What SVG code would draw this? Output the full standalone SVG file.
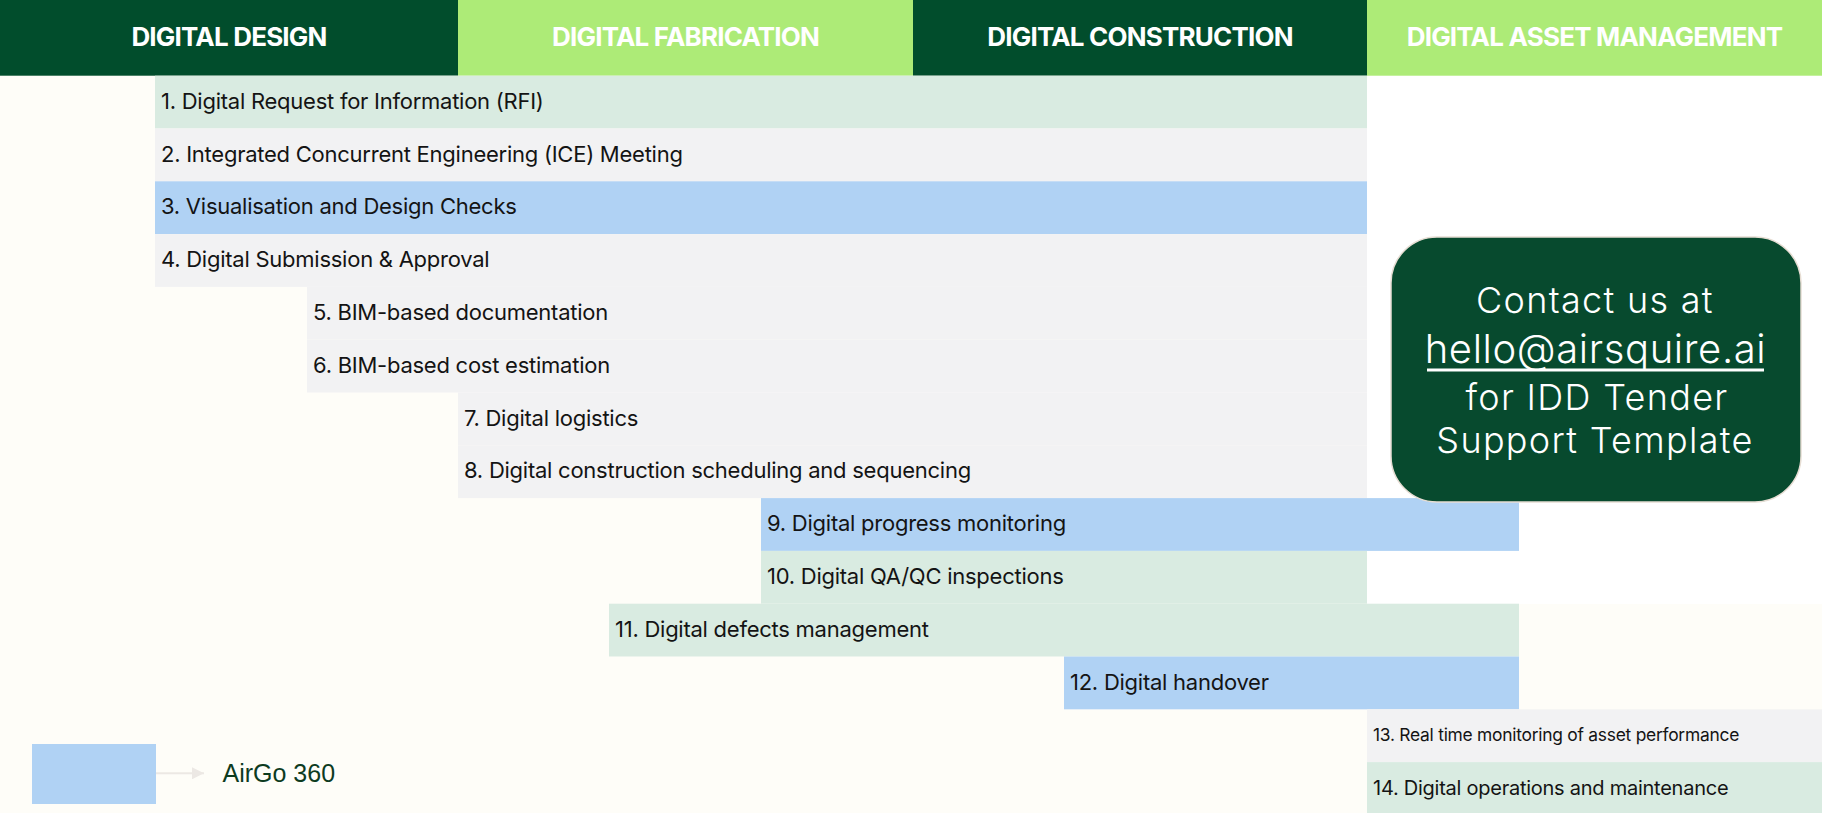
<svg xmlns="http://www.w3.org/2000/svg" width="1822" height="813" viewBox="0 0 1822 813">
<defs>
<style>
.hdr{font-family:Inter,"Liberation Sans",sans-serif;font-weight:700;font-size:26px;letter-spacing:-0.8px;fill:#ffffff;text-anchor:middle}
.row{font-family:Inter,"Liberation Sans",sans-serif;font-size:22px;letter-spacing:-0.25px;fill:#141414}
.g{fill:#d9ebe1}.w{fill:#f2f2f3}.b{fill:#b0d2f4}
.dk{fill:#014d2c}.lt{fill:#adeb77}
.ct{font-family:Inter,"DejaVu Sans",sans-serif;font-weight:350;font-size:36px;letter-spacing:1.3px;fill:#ffffff;text-anchor:middle}
</style>
<marker id="arr" viewBox="0 0 10 10" refX="10" refY="5" markerWidth="6" markerHeight="6" orient="auto" markerUnits="strokeWidth">
<path d="M0,0 L10,5 L0,10 z" fill="#ece8e4"/>
</marker>
</defs>
<rect x="0" y="0" width="1822" height="813" fill="#fefdf8"/>
<rect x="1367" y="75.7" width="455" height="528.3" fill="#ffffff"/>
<g id="header">
<g id="h1"><rect class="dk" x="0" y="0" width="458" height="75.7"/><text class="hdr" x="229" y="46">DIGITAL DESIGN</text></g>
<g id="h2"><rect class="lt" x="458" y="0" width="455" height="75.7"/><text class="hdr" x="685.5" y="46">DIGITAL FABRICATION</text></g>
<g id="h3"><rect class="dk" x="913" y="0" width="454" height="75.7"/><text class="hdr" x="1140" y="46">DIGITAL CONSTRUCTION</text></g>
<g id="h4"><rect class="lt" x="1367" y="0" width="455" height="75.7"/><text class="hdr" x="1594.5" y="46">DIGITAL ASSET MANAGEMENT</text></g>
</g>
<g id="r1"><rect class="g" x="155" y="75.7" width="1212" height="52.8"/><text class="row" x="161" y="108.7">1. Digital Request for Information (RFI)</text></g>
<g id="r2"><rect class="w" x="155" y="128.5" width="1212" height="52.8"/><text class="row" x="161" y="161.5">2. Integrated Concurrent Engineering (ICE) Meeting</text></g>
<g id="r3"><rect class="b" x="155" y="181.3" width="1212" height="52.8"/><text class="row" x="161" y="214.3">3. Visualisation and Design Checks</text></g>
<g id="r4"><rect class="w" x="155" y="234.1" width="1212" height="52.8"/><text class="row" x="161" y="267.1">4. Digital Submission &amp; Approval</text></g>
<g id="r5"><rect class="w" x="307" y="286.9" width="1060" height="52.8"/><text class="row" x="313" y="319.9">5. BIM-based documentation</text></g>
<g id="r6"><rect class="w" x="307" y="339.7" width="1060" height="52.8"/><text class="row" x="313" y="372.7">6. BIM-based cost estimation</text></g>
<g id="r7"><rect class="w" x="458" y="392.5" width="909" height="52.8"/><text class="row" x="464" y="425.5">7. Digital logistics</text></g>
<g id="r8"><rect class="w" x="458" y="445.3" width="909" height="52.8"/><text class="row" x="464" y="478.3">8. Digital construction scheduling and sequencing</text></g>
<g id="r9"><rect class="b" x="761" y="498.1" width="758" height="52.8"/><text class="row" x="767" y="531.1">9. Digital progress monitoring</text></g>
<g id="r10"><rect class="g" x="761" y="550.9" width="606" height="52.8"/><text class="row" x="767" y="583.9">10. Digital QA/QC inspections</text></g>
<g id="r11"><rect class="g" x="609" y="603.7" width="910" height="52.8"/><text class="row" x="615" y="636.7">11. Digital defects management</text></g>
<g id="r12"><rect class="b" x="1064" y="656.5" width="455" height="52.8"/><text class="row" x="1070" y="689.5">12. Digital handover</text></g>
<g id="r13"><rect class="w" x="1367" y="709.3" width="455" height="52.8"/><text class="row" x="1373" y="741" style="font-size:17.4px">13. Real time monitoring of asset performance</text></g>
<g id="r14"><rect class="g" x="1367" y="762.1" width="455" height="52.8"/><text class="row" x="1373" y="794.5" style="font-size:20px">14. Digital operations and maintenance</text></g>
<g id="contact">
<rect x="1391" y="237" width="410" height="265" rx="46" ry="46" fill="#074a2e" stroke="#e6ddd3" stroke-width="1.5"/>
<text class="ct" x="1595" y="313">Contact us at</text>
<text class="ct" x="1595.5" y="363" style="font-size:40px;letter-spacing:0.6px">hello@airsquire.ai</text>
<line x1="1427" y1="370" x2="1764" y2="370" stroke="#ffffff" stroke-width="3"/>
<text class="ct" x="1597" y="410">for IDD Tender</text>
<text class="ct" x="1595" y="453">Support Template</text>
</g>
<g id="legend-key"><rect class="b" x="32" y="744" width="124" height="60"/></g>
<g id="connectors">
<line x1="156" y1="773.3" x2="204" y2="773.3" stroke="#ece8e4" stroke-width="2" marker-end="url(#arr)"/>
</g>
<g id="legend-label"><text x="222.5" y="782" font-family="'Liberation Sans',Arial,sans-serif" font-size="25" fill="#0d3b1f">AirGo 360</text></g>
</svg>
